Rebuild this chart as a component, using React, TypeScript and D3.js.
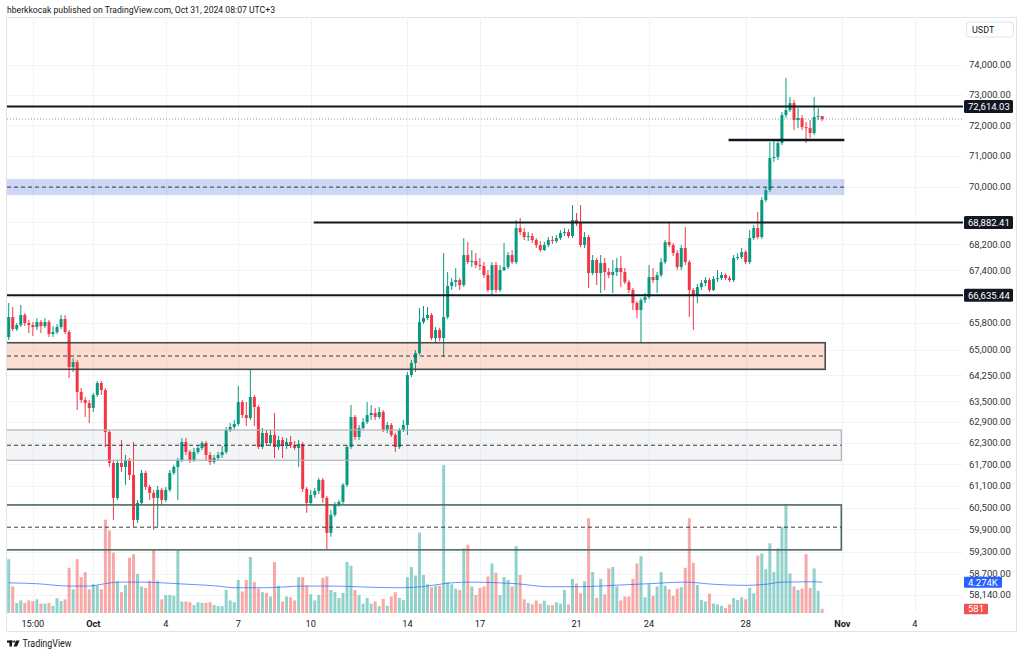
import React from 'react';
import * as d3 from 'd3';

const W = 1024;
const H = 656;

// ---------- DATA (BTC/USDT, 4h candles, chart time UTC+3) ----------
const firstBarMs = Date.UTC(2024, 8, 27, 15); // Sep 27 15:00
const BAR_MS = 4 * 3600 * 1000;

const opens = [65383, 65980, 65621, 65740, 66040, 65800, 65740, 65680, 65830, 65710,
  65830, 65472, 65531, 65680, 65920, 65531, 64496, 64643, 63767, 63535,
  63449, 63305, 63680, 64028, 63825, 62617, 61741, 60766, 61741, 61629,
  61825, 61405, 60162, 60628, 61461, 61071, 60905, 60766, 60988, 60711,
  60988, 61461, 61629, 61825, 62333, 62051, 61825, 62051, 62163, 62305,
  61966, 61769, 61881, 61966, 62051, 62674, 62760, 62846, 63477, 63103,
  63017, 63622, 63333, 62192, 62589, 62305, 62532, 62192, 62390, 62220,
  62333, 62248, 62163, 62277, 61016, 60628, 60849, 60960, 61266, 60766,
  59807, 60299, 60573, 60656, 61127, 62192, 63046, 62475, 62731, 62903,
  63103, 63160, 63046, 63189, 62674, 62817, 62532, 62192, 62674, 62817,
  64262, 64614, 64908, 65830, 65950, 66040, 65353, 65591, 65353, 65980,
  66918, 67039, 67100, 66948, 67868, 67652, 67683, 67560, 67529, 67253,
  66796, 67560, 66796, 67406, 67498, 67868, 67652, 68707, 68583, 68427,
  68458, 68333, 68178, 68023, 68178, 68333, 68302, 68395, 68551, 68583,
  68458, 68958, 68864, 68178, 68427, 67314, 67714, 67314, 67622, 67345,
  67253, 67345, 67468, 67345, 67039, 66796, 66401, 66190, 66492, 66583,
  67192, 67100, 67253, 67652, 68271, 68178, 67930, 67498, 68085, 67652,
  66796, 66644, 66887, 67009, 67100, 66796, 67131, 67161, 67253, 67161,
  67100, 67776, 67807, 67961, 67652, 68395, 68707, 68427, 69589, 69906,
  70932, 70964, 71417, 72333, 72498, 72729, 72169, 72235, 71939, 71906,
  71743, 72268, 72300];

const highs = [66401, 66281, 65800, 66341, 66100, 65890, 65830, 65950, 65890, 65950,
  65890, 65710, 65770, 66040, 66040, 65591, 64761, 64702, 63883, 63622,
  63535, 63738, 64087, 64087, 63883, 62674, 61825, 61825, 62390, 61966,
  61881, 62333, 60711, 61545, 61517, 61127, 60988, 61099, 61044, 61071,
  61545, 61685, 61881, 62447, 62447, 62107, 62163, 62248, 62362, 62362,
  62051, 61966, 62051, 62220, 62760, 62874, 62960, 63941, 63535, 63477,
  64408, 63680, 63391, 62731, 62674, 62674, 63160, 62504, 62475, 62447,
  62504, 62362, 62390, 62333, 61071, 60988, 61044, 61322, 61322, 60821,
  60436, 60656, 60711, 61182, 62248, 63391, 63103, 62817, 63017, 63477,
  63391, 63305, 63333, 63247, 62903, 62874, 62589, 62731, 62960, 64350,
  64702, 64997, 66250, 66311, 66281, 66100, 65680, 65651, 67930, 67345,
  67161, 67468, 67161, 68395, 68271, 68023, 67930, 67776, 67652, 67406,
  67652, 67652, 67560, 68240, 67961, 68023, 68958, 69021, 68707, 68583,
  68551, 68395, 68302, 68271, 68427, 68458, 68489, 68645, 68707, 68676,
  69430, 69178, 69430, 68583, 68489, 67868, 67776, 67868, 67776, 67468,
  67714, 67776, 67837, 67468, 67100, 66857, 66462, 66553, 66705, 67560,
  67468, 67345, 67776, 68333, 68864, 68240, 68023, 68178, 68739, 67714,
  66857, 66978, 67100, 67192, 67161, 67222, 67406, 67345, 67314, 67222,
  67868, 67930, 68085, 68023, 68645, 68801, 69209, 69684, 70001, 71450,
  71515, 71515, 72432, 73561, 72927, 72828, 72564, 72333, 72104, 72169,
  72927, 72564, 72300];

const lows = [65293, 65561, 65561, 65680, 65710, 65502, 65412, 65591, 65502, 65651,
  65382, 65382, 65472, 65621, 65472, 64174, 64350, 63247, 63449, 63046,
  62874, 63189, 63622, 63680, 62192, 61629, 60162, 60711, 61489, 61127,
  61266, 59971, 60080, 60573, 60988, 60711, 59889, 59971, 60573, 60656,
  60932, 61405, 60711, 61769, 61966, 61741, 61769, 61994, 62107, 61825,
  61685, 61713, 61825, 61881, 61994, 62617, 62674, 62789, 63017, 62789,
  62960, 62789, 62135, 62135, 62220, 62220, 61881, 62107, 61881, 62135,
  62163, 62107, 61629, 60932, 60354, 60573, 60766, 60877, 60628, 59347,
  59699, 60244, 60518, 60601, 61071, 62135, 62390, 62390, 62674, 62846,
  62960, 62960, 62989, 62617, 62589, 62475, 62051, 62135, 62617, 62532,
  64204, 64350, 64849, 65770, 65890, 65293, 65234, 65264, 64790, 65920,
  66796, 66887, 66796, 66887, 67591, 67498, 67468, 67406, 67161, 66735,
  66644, 66705, 66735, 67375, 67437, 67591, 67591, 68489, 68333, 68302,
  68240, 68085, 67961, 67992, 68116, 68209, 68240, 68333, 68458, 68395,
  68395, 68770, 68116, 68085, 66857, 67253, 66948, 66705, 66796, 67161,
  66705, 67222, 66887, 66978, 66705, 66190, 65950, 65204, 66401, 66522,
  67009, 66705, 67192, 67591, 68116, 67837, 67406, 67406, 67560, 65980,
  65591, 66401, 66796, 66918, 66735, 66766, 67039, 67100, 67100, 67039,
  67039, 67714, 67745, 67591, 67591, 68333, 68364, 68364, 69525, 69842,
  70803, 70867, 71352, 72235, 72432, 71841, 71906, 71841, 71417, 71580,
  71678, 72169, 72136];

const closes = [65980, 65621, 65740, 66040, 65800, 65740, 65680, 65830, 65710, 65830,
  65472, 65531, 65680, 65920, 65531, 64496, 64643, 63767, 63535, 63449,
  63305, 63680, 64028, 63825, 62617, 61741, 60766, 61741, 61629, 61825,
  61405, 60162, 60628, 61461, 61071, 60905, 60766, 60988, 60711, 60988,
  61461, 61629, 61825, 62333, 62051, 61825, 62051, 62163, 62305, 61966,
  61769, 61881, 61966, 62051, 62674, 62760, 62846, 63477, 63103, 63017,
  63622, 63333, 62192, 62589, 62305, 62532, 62192, 62390, 62220, 62333,
  62248, 62163, 62277, 61016, 60628, 60849, 60960, 61266, 60766, 59807,
  60299, 60573, 60656, 61127, 62192, 63046, 62475, 62731, 62903, 63103,
  63160, 63046, 63189, 62674, 62817, 62532, 62192, 62674, 62817, 64262,
  64614, 64908, 65830, 65950, 66040, 65353, 65591, 65353, 65980, 66918,
  67039, 67100, 66948, 67868, 67652, 67683, 67560, 67529, 67253, 66796,
  67560, 66796, 67406, 67498, 67868, 67652, 68707, 68583, 68427, 68458,
  68333, 68178, 68023, 68178, 68333, 68302, 68395, 68551, 68583, 68458,
  68958, 68864, 68178, 68427, 67314, 67714, 67314, 67622, 67345, 67253,
  67345, 67468, 67345, 67039, 66796, 66401, 66190, 66492, 66583, 67192,
  67100, 67253, 67652, 68271, 68178, 67930, 67498, 68085, 67652, 66796,
  66644, 66887, 67009, 67100, 66796, 67131, 67161, 67253, 67161, 67100,
  67776, 67807, 67961, 67652, 68395, 68707, 68427, 69589, 69906, 70932,
  70964, 71417, 72333, 72498, 72729, 72169, 72235, 71939, 71906, 71743,
  72268, 72300, 72202];

const volumes = [7500, 3700, 1400, 1750, 1400, 1750, 1660, 1900, 1300, 1300,
  1400, 1000, 2050, 1660, 1900, 6300, 3300, 7500, 5000, 5700,
  3300, 4000, 3800, 3300, 13000, 11500, 8400, 4400, 2900, 3900,
  7700, 8200, 5450, 3700, 3500, 4500, 8800, 4500, 1900, 2500,
  2500, 2400, 8700, 1600, 1600, 1500, 1100, 1500, 1400, 1400,
  1500, 1100, 950, 950, 3200, 1750, 1500, 4600, 3000, 4600,
  7800, 4300, 3400, 2900, 2800, 2300, 7100, 3800, 1600, 2300,
  2200, 1750, 5000, 5000, 3800, 2600, 1750, 2500, 4900, 5100,
  3200, 2900, 2100, 2800, 7100, 6600, 3200, 2500, 1300, 2100,
  1300, 1600, 950, 1950, 1000, 2300, 2900, 2100, 1800, 5000,
  6400, 5200, 11200, 5300, 4000, 3600, 3800, 3800, 20600, 4300,
  4000, 3400, 3200, 9000, 9500, 3700, 2500, 3500, 3700, 5100,
  6900, 5600, 2500, 5000, 4600, 3700, 9300, 5300, 1900, 1400,
  1200, 1750, 1300, 1700, 1100, 1100, 1500, 1300, 3200, 1200,
  4750, 4100, 2750, 4400, 13200, 5700, 2100, 4750, 2600, 6200,
  6400, 3700, 1750, 2300, 2300, 4750, 6900, 7900, 2200, 4000,
  2400, 3700, 5700, 3800, 3300, 2400, 3400, 3600, 6300, 13200,
  7000, 3900, 1800, 1600, 2700, 1300, 1200, 1000, 700, 1200,
  2100, 1800, 2200, 1900, 3500, 2750, 8000, 8300, 6100, 9700,
  5700, 9000, 12000, 15000, 5500, 3700, 3200, 3400, 8200, 3500,
  6200, 3100, 581];

// Volume moving average, read at these bar indices
const volMaBar = [0, 7, 15, 20, 23, 27, 33, 38, 45, 52, 56, 64, 73, 81, 89, 97, 104, 108, 114, 122, 126, 134, 142, 150, 159, 168, 175, 183, 188, 192, 200, 202];
const volMaValue = [4200, 4080, 3750, 3750, 3990, 4300, 4300, 4200, 3990, 3750, 3520, 3520, 3750, 3750, 3600, 3520, 3750, 4080, 4300, 4200, 4080, 3660, 3660, 3850, 4080, 4300, 4000, 3850, 4000, 4300, 4350, 4274];

const priceTicks = [74000, 73000, 72000, 71000, 70000, 68900, 68200, 67400, 66600, 65800, 65000, 64250, 63500, 62900, 62300, 61700, 61100, 60500, 59900, 59300, 58700, 58140];

const timeTickLabels = ['15:00', 'Oct', '4', '7', '10', '14', '17', '21', '24', '28', 'Nov', '4'];
const timeTickDates = [
  Date.UTC(2024, 8, 28, 15), Date.UTC(2024, 9, 1, 3), Date.UTC(2024, 9, 4, 3), Date.UTC(2024, 9, 7, 3),
  Date.UTC(2024, 9, 10, 3), Date.UTC(2024, 9, 14, 3), Date.UTC(2024, 9, 17, 3), Date.UTC(2024, 9, 21, 3),
  Date.UTC(2024, 9, 24, 3), Date.UTC(2024, 9, 28, 3), Date.UTC(2024, 10, 1, 3), Date.UTC(2024, 10, 4, 3)];
const timeTickBold = [false, true, false, false, false, false, false, false, false, false, true, false];

// Drawn zones (price ranges) and their right ends
const zoneTop = [70257, 65213, 62674, 60573];
const zoneBottom = [69747, 64429, 61816, 59347];
const zoneMid = [70000, 64820, 62240, 59962];
const zoneEnd = [Date.UTC(2024, 10, 1, 5), Date.UTC(2024, 9, 31, 10), Date.UTC(2024, 10, 1, 2), Date.UTC(2024, 10, 1, 2)];

// Horizontal levels
const levelPrice = [72614.03, 71515, 68882.41, 66635.44];
const levelStart = [null, Date.UTC(2024, 9, 27, 10), Date.UTC(2024, 9, 10, 6), null];
const levelEnd = [null, Date.UTC(2024, 10, 1, 5), null, null];
const levelLabeled = [true, false, true, true];

const header = 'hberkkocak published on TradingView.com, Oct 31, 2024 08:07 UTC+3';

export default function App() {
  const plotL = 7, plotR = 963, plotT = 17, plotB = 613;
  const times = closes.map((_, i) => new Date(firstBarMs + i * BAR_MS));
  const x = d3.scaleUtc().domain([times[0], times[times.length - 1]]).range([8.7, 822.2]);
  const y = d3.scaleLog().domain([58140, 74000]).range([595, 65]);
  const yVol = d3.scaleLinear().domain([0, 21000]).range([plotB, 462.2]);
  const fmt = d3.format(',.2f');
  const font = 'Roboto, "Noto Sans", sans-serif';

  const zoneFill = ['rgba(60,100,220,0.25)', 'rgba(242,120,75,0.25)', 'rgba(200,205,215,0.22)', 'rgba(255,255,255,0)'];
  const zoneStroke = ['none', '#4a4a4a', '#b0b3ba', '#4d6a5e'];
  const zoneStrokeW = [0, 1.6, 1.2, 1.6];

  const maLine = d3.line<number>()
    .x((_, k) => x(new Date(firstBarMs + volMaBar[k] * BAR_MS)))
    .y((v) => yVol(v))
    .curve(d3.curveMonotoneX);

  const bodyW = 3;
  const lastClose = closes[closes.length - 1];
  const maLast = volMaValue[volMaValue.length - 1];
  const volLast = volumes[volumes.length - 1];

  return (
    <div style={{ position: 'absolute', left: 0, top: 0, width: W, height: H, background: '#fff' }}>
      <svg width={W} height={H} style={{ display: 'block', fontFamily: font }}>
        <rect x={0} y={0} width={W} height={H} fill="#fff" />
        <text x={7} y={13} fontSize={9.6} fill="#131722" textLength={268} lengthAdjust="spacingAndGlyphs">{header}</text>

        <defs>
          <clipPath id="plot">
            <rect x={plotL} y={plotT} width={plotR - plotL} height={plotB - plotT} />
          </clipPath>
        </defs>

        <rect x={6.5} y={17.5} width={1010} height={614} fill="none" stroke="#e0e3eb" strokeWidth={1} />

        {priceTicks.map((p, k) => (
          <line key={'hg' + k} x1={plotL} x2={plotR} y1={Math.round(y(p)) + 0.5} y2={Math.round(y(p)) + 0.5} stroke="#f3f4f7" strokeWidth={1} />
        ))}
        {timeTickDates.map((t, k) => (
          <line key={'vg' + k} x1={Math.round(x(new Date(t))) + 0.5} x2={Math.round(x(new Date(t))) + 0.5} y1={plotT} y2={plotB} stroke="#f0f2f6" strokeWidth={1} />
        ))}

        <g clipPath="url(#plot)">
          {zoneTop.map((top, k) => (
            <rect key={'zf' + k} x={plotL - 5} y={y(top)} width={x(new Date(zoneEnd[k])) - plotL + 5} height={y(zoneBottom[k]) - y(top)} fill={zoneFill[k]} />
          ))}

          {volumes.map((v, i) => (
            <rect key={'v' + i} x={x(times[i]) - bodyW / 2} y={yVol(v)} width={bodyW} height={plotB - yVol(v)}
              fill={closes[i] >= opens[i] ? 'rgba(38,166,154,0.5)' : 'rgba(239,83,80,0.5)'} />
          ))}
          <path d={maLine(volMaValue) || ''} fill="none" stroke="#2962ff" strokeOpacity={0.7} strokeWidth={1} />

          <line x1={plotL} x2={plotR} y1={y(lastClose)} y2={y(lastClose)} stroke="#9598a1" strokeWidth={1} strokeDasharray="1,2" />

          {closes.map((c, i) => {
            const up = c >= opens[i];
            const col = up ? '#089981' : '#f23645';
            const cx = x(times[i]);
            const yT = y(Math.max(opens[i], c));
            const yB = y(Math.min(opens[i], c));
            return (
              <g key={'c' + i}>
                <line x1={cx} x2={cx} y1={y(highs[i])} y2={y(lows[i])} stroke={col} strokeWidth={1} />
                <rect x={cx - bodyW / 2} y={yT} width={bodyW} height={Math.max(1, yB - yT)} fill={col} />
              </g>
            );
          })}

          {zoneTop.map((top, k) => {
            const xe = x(new Date(zoneEnd[k]));
            return (
              <g key={'zb' + k}>
                {zoneStrokeW[k] > 0 && (
                  <rect x={plotL - 5} y={y(top)} width={xe - plotL + 5} height={y(zoneBottom[k]) - y(top)} fill="none" stroke={zoneStroke[k]} strokeWidth={zoneStrokeW[k]} />
                )}
                <line x1={plotL} x2={xe} y1={y(zoneMid[k])} y2={y(zoneMid[k])} stroke="#3a3a3a" strokeWidth={1} strokeDasharray="4,3" />
              </g>
            );
          })}

          {levelPrice.map((p, k) => (
            <line key={'lv' + k}
              x1={levelStart[k] == null ? plotL : x(new Date(levelStart[k] as number))}
              x2={levelEnd[k] == null ? plotR : x(new Date(levelEnd[k] as number))}
              y1={y(p)} y2={y(p)} stroke="#131722" strokeWidth={k === 1 ? 2.5 : 2} />
          ))}
        </g>

        {priceTicks.map((p, k) => (
          <text key={'pt' + k} x={969} y={y(p)} dy="0.35em" fontSize={9.5} fill="#333">{fmt(p)}</text>
        ))}
        {levelPrice.map((p, k) => levelLabeled[k] ? (
          <g key={'pl' + k}>
            <rect x={964} y={y(p) - 6.5} width={49} height={13} rx={1.5} fill="#131722" />
            <text x={968} y={y(p)} dy="0.35em" fontSize={9.5} fill="#fff">{fmt(p)}</text>
          </g>
        ) : null)}

        <rect x={964} y={yVol(maLast) - 5.5} width={38} height={11} rx={1} fill="#2962ff" />
        <text x={968} y={yVol(maLast)} dy="0.35em" fontSize={9.5} fill="#fff">
          {d3.format('.4s')(maLast).replace('k', 'K')}
        </text>
        <rect x={964} y={yVol(volLast) - 5} width={24} height={10.5} rx={1} fill="#ef5350" />
        <text x={968} y={yVol(volLast) + 0.3} dy="0.35em" fontSize={9.5} fill="#fff">{volLast}</text>

        <rect x={966.5} y={22} width={47} height={15} rx={3} fill="#fff" stroke="#e0e3eb" />
        <text x={972} y={32.8} fontSize={9} fill="#131722">USDT</text>

        {timeTickDates.map((t, k) => (
          <text key={'tt' + k} x={x(new Date(t))} y={627} textAnchor="middle" fontSize={9.2}
            fontWeight={timeTickBold[k] ? 700 : 400} fill="#131722">{timeTickLabels[k]}</text>
        ))}

        <g fill="#131722">
          <rect x={7} y={640.5} width={5.6} height={2.2} />
          <rect x={9.4} y={640.5} width={2.6} height={6} />
          <circle cx={14.3} cy={641.6} r={1.15} />
          <polygon points="16.2,640.5 19.6,640.5 17,646.5 13.6,646.5" />
        </g>
        <text x={22.5} y={647} fontSize={10} fill="#131722" textLength={49} lengthAdjust="spacingAndGlyphs">TradingView</text>
      </svg>
    </div>
  );
}
